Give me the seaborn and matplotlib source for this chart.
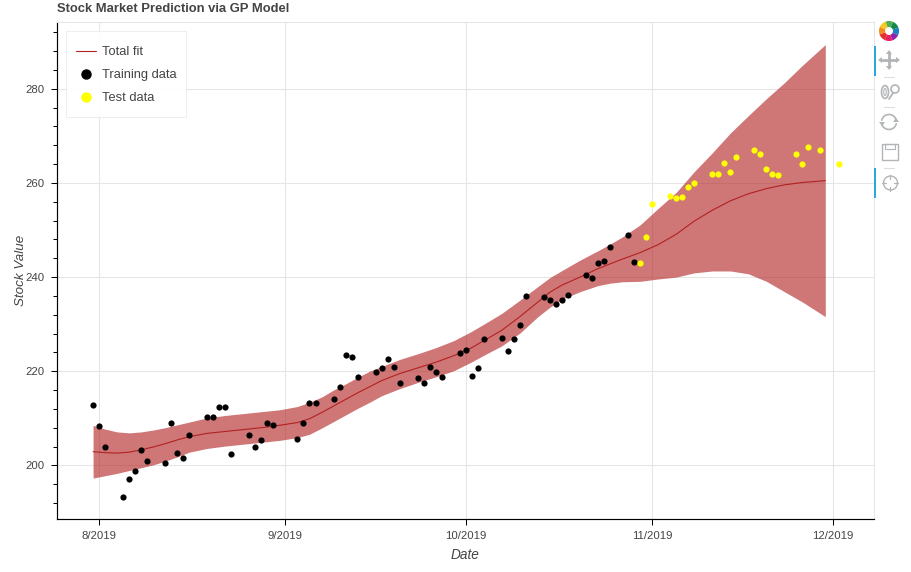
# Stock market prediction via GP model - reproduction with seaborn
import numpy as np
import pandas as pd
import matplotlib
matplotlib.use('Agg')
import matplotlib.pyplot as plt
from matplotlib.lines import Line2D
from matplotlib.patches import Wedge, Rectangle, Circle, Ellipse
from matplotlib.ticker import FixedLocator
import seaborn as sns

# Training data (days since 1 Aug 2019, stock value)
train_days = [-1, 0, 1, 4, 5, 6, 7, 8, 11, 12, 13, 14, 15, 18, 19, 20, 21, 22, 25, 26, 27, 28, 29,
              33, 34, 35, 36, 39, 40, 41, 42, 43, 46, 47, 48, 49, 50, 53, 54, 55, 56, 57,
              60, 61, 62, 63, 64, 67, 68, 69, 70, 71, 74, 75, 76, 77, 78, 81, 82, 83, 84, 85, 88, 89]
train_values = [212.9, 208.4, 203.9, 193.3, 197.0, 198.9, 203.3, 200.9, 200.4, 208.9, 202.6, 201.6, 206.4,
                210.2, 210.2, 212.5, 212.3, 202.5, 206.4, 204.0, 205.4, 208.9, 208.6,
                205.6, 209.1, 213.2, 213.2, 214.0, 216.6, 223.5, 223.0, 218.7, 219.8, 220.6, 222.6, 220.9, 217.6,
                218.6, 217.6, 220.9, 219.8, 218.7, 223.8, 224.5, 218.9, 220.7, 226.9, 227.0, 224.3, 226.9,
                229.9, 236.0, 235.7, 235.2, 234.2, 235.1, 236.2, 240.4, 239.8, 243.0, 243.4, 246.4, 248.9, 243.1]

# Test data
test_days = [90, 91, 92, 95, 96, 97, 98, 99, 102, 103, 104, 105, 106, 109, 110, 111, 112, 113,
             116, 117, 118, 120, 123]
test_values = [243.0, 248.6, 255.6, 257.3, 256.9, 257.0, 259.2, 259.9, 262.0, 261.8, 264.3, 262.4, 265.5,
               266.9, 266.1, 263.0, 261.9, 261.6, 266.1, 264.1, 267.6, 267.0, 264.0]

# GP fit and its band
fit_days = [-1, 1, 3, 5, 7, 9, 11, 13, 15, 18, 21, 24, 27, 30, 33, 35, 37, 39, 41, 43, 45, 47, 50, 53,
            56, 59, 62, 64, 67, 70, 73, 75, 77, 80, 83, 85, 87, 90, 93, 96, 99, 102, 105, 108, 111, 114, 117, 120.8]
fit_mean = [202.9, 202.7, 202.6, 202.8, 203.3, 203.9, 204.6, 205.4, 206.1, 206.8, 207.2, 207.6, 208.0, 208.5,
            209.1, 209.9, 211.2, 212.6, 214.0, 215.4, 216.7, 218.0, 219.5, 220.7, 221.9, 223.3, 225.0, 226.5,
            228.7, 231.6, 234.7, 236.8, 238.3, 240.0, 241.8, 242.8, 243.8, 245.2, 246.9, 249.1, 251.9, 254.2,
            256.2, 257.7, 258.8, 259.6, 260.1, 260.5]
fit_upper = [208.5, 207.7, 207.1, 206.9, 207.1, 207.5, 208.0, 208.6, 209.2, 210.1, 210.6, 211.0, 211.4, 211.8,
             212.5, 213.4, 214.5, 216.0, 217.3, 218.7, 220.0, 221.0, 222.5, 223.7, 225.0, 226.5, 228.5, 230.0,
             232.3, 235.1, 238.0, 239.9, 241.4, 243.6, 245.6, 247.0, 248.5, 251.1, 254.6, 258.0, 262.4, 266.4,
             270.6, 274.3, 277.9, 281.3, 285.0, 289.4]
fit_lower = [197.3, 197.8, 198.3, 198.9, 199.5, 200.1, 200.9, 201.8, 202.8, 203.6, 204.1, 204.5, 204.9, 205.3,
             205.9, 206.6, 207.9, 209.3, 210.7, 212.1, 213.4, 214.8, 216.3, 217.6, 218.8, 220.1, 222.0, 223.4,
             225.4, 228.1, 231.6, 233.6, 235.3, 236.9, 238.2, 238.7, 239.0, 239.1, 239.6, 240.0, 240.9, 241.3,
             241.3, 240.7, 239.1, 236.9, 234.7, 231.6]

month_ticks = ['2019-08-01', '2019-09-01', '2019-10-01', '2019-11-01', '2019-12-01']
month_labels = ['8/2019', '9/2019', '10/2019', '11/2019', '12/2019']
y_major = [200, 220, 240, 260, 280]
y_minor = [192, 196, 204, 208, 212, 216, 224, 228, 232, 236, 244, 248, 252, 256, 264, 268, 272, 276, 284, 288, 292]

W, H = 912, 572
GREY = '#b2b5b7'
TEXT = '#444444'

start = pd.Timestamp('2019-08-01')
def to_dates(days):
    return start + pd.to_timedelta(days, unit='D')

train_df = pd.DataFrame({'date': to_dates(train_days), 'value': train_values})
test_df = pd.DataFrame({'date': to_dates(test_days), 'value': test_values})
fit_df = pd.DataFrame({'date': to_dates(fit_days), 'mean': fit_mean, 'upper': fit_upper, 'lower': fit_lower})

sns.set_theme(style='whitegrid')
plt.rcParams['font.family'] = ['Liberation Sans', 'DejaVu Sans']

fig = plt.figure(figsize=(W / 100, H / 100), dpi=100)
ax = fig.add_axes([57 / W, 1 - 519 / H, (874 - 57) / W, (519 - 22) / H])

ax.fill_between(fit_df['date'], fit_df['lower'], fit_df['upper'], color='firebrick', alpha=0.62, lw=0, zorder=2)
sns.lineplot(data=fit_df, x='date', y='mean', color='firebrick', lw=0.8, ax=ax, zorder=3)
sns.scatterplot(data=train_df, x='date', y='value', color='black', s=20, lw=0, ax=ax, zorder=4)
sns.scatterplot(data=test_df, x='date', y='value', color='yellow', s=20, lw=0, ax=ax, zorder=4)

ax.set_xlim(to_dates(-7), to_dates(128.9))
ax.set_ylim(188.6, 294.2)

ax.set_xticks(pd.to_datetime(month_ticks))
ax.set_xticklabels(month_labels)
ax.set_yticks(y_major)
ax.yaxis.set_minor_locator(FixedLocator(y_minor))
ax.tick_params(axis='both', which='major', length=4.3, width=0.75, color='black', labelsize=8.2,
               labelcolor=TEXT, pad=4.5, bottom=True, left=True)
ax.tick_params(axis='y', which='minor', length=2.9, width=0.75, color='black', left=True)

ax.grid(True, which='major', color='#e5e5e5', lw=0.75)
ax.grid(False, which='minor')
ax.set_axisbelow(True)
for side in ['top', 'right']:
    ax.spines[side].set_color('#e5e5e5')
    ax.spines[side].set_linewidth(0.75)
for side in ['left', 'bottom']:
    ax.spines[side].set_color('black')
    ax.spines[side].set_linewidth(0.85)

ax.set_xlabel('Date', fontsize=9.8, style='italic', color=TEXT, labelpad=5)
ax.set_ylabel('Stock Value', fontsize=9.6, style='italic', color=TEXT, labelpad=-1)
fig.text(57 / W, 1 - 9.5 / H, 'Stock Market Prediction via GP Model', fontsize=9.4, fontweight='bold',
         color=TEXT, va='center', ha='left')

# Legende : cadre a part pour garder les marges du bloc
ax.add_patch(Rectangle((66 / W, 1 - 117 / H), 120 / W, 86 / H, transform=fig.transFigure, fc='white',
                       ec='#eeeeee', lw=0.75, alpha=0.95, zorder=5, clip_on=False))
handles = [Line2D([], [], color='firebrick', lw=0.8),
           Line2D([], [], color='none', marker='o', mfc='black', mec='black', ms=6.5),
           Line2D([], [], color='none', marker='o', mfc='yellow', mec='yellow', ms=6.5)]
leg = ax.legend(handles, ['Total fit', 'Training data', 'Test data'], loc='upper left',
                bbox_to_anchor=((66 - 57) / (874 - 57), 1 - (36 - 22) / (519 - 22)), borderaxespad=0,
                fontsize=9.25, frameon=False, labelcolor=TEXT, handlelength=1.56, handletextpad=0.47,
                labelspacing=0.86, borderpad=0.78)
leg.set_zorder(6)

# Barre d'outils bokeh, dessinee en pixels
tb = fig.add_axes([0, 0, 1, 1], facecolor='none')
tb.set_xlim(0, W)
tb.set_ylim(H, 0)
tb.axis('off')

logo_colors = ['#1c7fc4', '#8e24aa', '#e91e63', '#e6302b', '#f58a1f', '#f7c81e', '#4caf50', '#12894a']
for i, c in enumerate(logo_colors):
    tb.add_patch(Wedge((889, 31), 10, i * 45 - 20, (i + 1) * 45 - 20, width=6, color=c, lw=0))

tb.add_patch(Rectangle((874, 46), 2, 30, color='#26aae1', lw=0))
tb.add_patch(Rectangle((874, 168), 2, 30, color='#26aae1', lw=0))
for y in [76.5, 107, 168]:
    tb.plot([884, 894], [y, y], color='#dddddd', lw=0.8)

# deplacement
tb.plot([882, 896], [60, 60], color=GREY, lw=2)
tb.plot([889, 889], [53, 67], color=GREY, lw=2)
tb.fill([882, 878, 882], [57, 60, 63], color=GREY, lw=0)
tb.fill([896, 900, 896], [57, 60, 63], color=GREY, lw=0)
tb.fill([886, 889, 892], [54, 50, 54], color=GREY, lw=0)
tb.fill([886, 889, 892], [66, 70, 66], color=GREY, lw=0)
# zoom
tb.add_patch(Ellipse((885, 92), 7, 13, fc='none', ec=GREY, lw=1.2))
tb.add_patch(Ellipse((885, 92), 2.5, 7, fc='none', ec=GREY, lw=0.8))
tb.add_patch(Circle((895, 89), 4, fc='none', ec=GREY, lw=1.2))
tb.plot([893, 889], [93, 99], color=GREY, lw=1.3)
# reset
angles = np.linspace(0.2, 2.9, 20)
tb.plot(889 + 7.5 * np.cos(angles), 122 - 7.5 * np.sin(angles), color=GREY, lw=1.2)
tb.plot(889 - 7.5 * np.cos(angles), 122 + 7.5 * np.sin(angles), color=GREY, lw=1.2)
tb.fill([879, 882, 885], [122, 126, 122], color=GREY, lw=0)
tb.fill([893, 896, 899], [122, 118, 122], color=GREY, lw=0)
# sauvegarde
tb.add_patch(Rectangle((882, 144), 16, 16, fc='none', ec=GREY, lw=1))
tb.add_patch(Rectangle((885, 144), 10, 5, fc='none', ec=GREY, lw=0.8))
# crosshair
tb.add_patch(Circle((890.5, 183), 7, fc='none', ec=GREY, lw=1))
tb.plot([890.5, 890.5], [175, 179], color=GREY, lw=0.9)
tb.plot([890.5, 890.5], [187, 191], color=GREY, lw=0.9)
tb.plot([882.5, 886.5], [183, 183], color=GREY, lw=0.9)
tb.plot([894.5, 898.5], [183, 183], color=GREY, lw=0.9)

fig.savefig('out.png', dpi=100, facecolor='white')
